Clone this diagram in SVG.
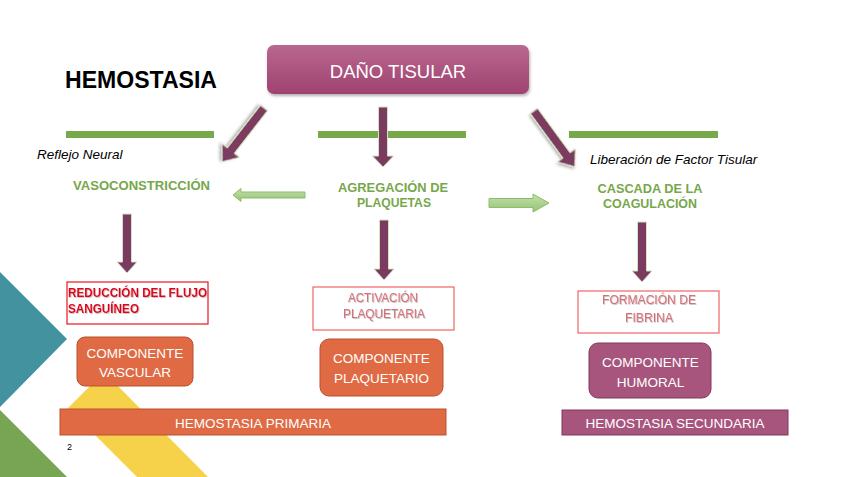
<svg xmlns="http://www.w3.org/2000/svg" width="848" height="477" viewBox="0 0 848 477">
<defs>
<linearGradient id="gDano" x1="0" y1="0" x2="0" y2="1">
<stop offset="0" stop-color="#b9688f"/>
<stop offset="1" stop-color="#9f426f"/>
</linearGradient>
<linearGradient id="gGreen" x1="0" y1="0" x2="0" y2="1">
<stop offset="0" stop-color="#c3e0ae"/>
<stop offset="1" stop-color="#95c473"/>
</linearGradient>
<filter id="sh" x="-10%" y="-20%" width="120%" height="150%">
<feDropShadow dx="1" dy="2" stdDeviation="1.5" flood-color="#000" flood-opacity="0.3"/>
</filter>
<filter id="tsh" x="-5%" y="-20%" width="110%" height="150%">
<feDropShadow dx="0.8" dy="0.8" stdDeviation="0.4" flood-color="#777" flood-opacity="0.5"/>
</filter>
</defs>
<style>
.sans{font-family:"Liberation Sans",Arial,sans-serif}
.green{fill:#76a74a;font-weight:bold;font-size:13px}
.ital{font-style:italic;font-size:13.5px;fill:#000}
.wht{fill:#fff;font-size:13.5px}
.bar{fill:#78a84c}
.parrow{fill:#7b3a5f;stroke:#d4e2c2;stroke-width:1}
.garrow{fill:url(#gGreen);stroke:#8cbd69;stroke-width:1}
.orange{fill:#e06a43;stroke:#b9512f;stroke-width:1}
.purple{fill:#a8557e;stroke:#7e3a5d;stroke-width:1}
</style>
<rect width="848" height="477" fill="#fff"/>
<g id="background">
<polygon points="68,408 104,372 208,477 137,477" fill="#f6d24a"/>
<polygon points="0,272 67,339 0,407" fill="#42929f"/>
<polygon points="0,410 67,477 0,477" fill="#78a553"/>
</g>
<text class="sans" x="65" y="88" font-size="23" font-weight="bold" fill="#000" textLength="152" lengthAdjust="spacingAndGlyphs">HEMOSTASIA</text>
<g id="dano">
<rect x="267" y="45" width="262" height="49" rx="7" fill="url(#gDano)" filter="url(#sh)"/>
<text class="sans" x="398" y="78" font-size="18.5" fill="#fff" text-anchor="middle">DAÑO TISULAR</text>
</g>
<g id="bars">
<rect class="bar" x="66" y="131" width="148" height="7"/>
<rect class="bar" x="318" y="131" width="148" height="7"/>
<rect class="bar" x="569" y="131" width="149" height="7"/>
</g>
<g id="connectors">
<polygon class="parrow" filter="url(#sh)" transform="translate(264,108) rotate(127.9)" points="0,-4.5 54,-4.5 54,-11 68,0 54,11 54,4.5 0,4.5"/>
<polygon class="parrow" transform="translate(383,107) rotate(90)" points="0,-4.5 49,-4.5 49,-10.5 60,0 49,10.5 49,4.5 0,4.5"/>
<polygon class="parrow" filter="url(#sh)" transform="translate(534,111) rotate(53.8)" points="0,-4.5 55,-4.5 55,-11 69,0 55,11 55,4.5 0,4.5"/>
<polygon class="parrow" transform="translate(127,214) rotate(90)" points="0,-4.5 48,-4.5 48,-10 59,0 48,10 48,4.5 0,4.5"/>
<polygon class="parrow" transform="translate(384,220) rotate(90)" points="0,-4.5 49,-4.5 49,-10 60,0 49,10 49,4.5 0,4.5"/>
<polygon class="parrow" transform="translate(642,222) rotate(90)" points="0,-4.5 49,-4.5 49,-10 60,0 49,10 49,4.5 0,4.5"/>
<polygon class="garrow" points="305,192 241,192 241,188.5 233,195 241,201.5 241,198 305,198"/>
<polygon class="garrow" points="489,198.5 533,198.5 533,194 549,203 533,212 533,207.5 489,207.5"/>
</g>
<g id="vaso">
<text class="sans ital" x="37" y="159">Reflejo Neural</text>
<text class="sans green" x="73" y="190" textLength="137" lengthAdjust="spacingAndGlyphs">VASOCONSTRICCIÓN</text>
</g>
<g id="agregacion">
<text class="sans green" x="393" y="192" text-anchor="middle" textLength="110" lengthAdjust="spacingAndGlyphs">AGREGACIÓN DE</text>
<text class="sans green" x="394" y="207" text-anchor="middle" textLength="74" lengthAdjust="spacingAndGlyphs">PLAQUETAS</text>
</g>
<g id="cascada">
<text class="sans ital" x="590" y="164">Liberación de Factor Tisular</text>
<text class="sans green" x="650" y="193" text-anchor="middle" textLength="105" lengthAdjust="spacingAndGlyphs">CASCADA DE LA</text>
<text class="sans green" x="650" y="208" text-anchor="middle" textLength="94" lengthAdjust="spacingAndGlyphs">COAGULACIÓN</text>
</g>
<g id="reduccion">
<rect x="67" y="282" width="141" height="42" fill="#fff" stroke="#e8161e" stroke-width="1.2"/>
<g filter="url(#tsh)">
<text class="sans" x="68" y="297" font-size="13.5" font-weight="bold" fill="#e3001b" textLength="139" lengthAdjust="spacingAndGlyphs">REDUCCIÓN DEL FLUJO</text>
<text class="sans" x="68" y="313" font-size="13.5" font-weight="bold" fill="#e3001b" textLength="71" lengthAdjust="spacingAndGlyphs">SANGUÍNEO</text>
</g>
</g>
<g id="activacion">
<rect x="313" y="287" width="141" height="43" fill="#fff" stroke="#f06464" stroke-width="1.2"/>
<g filter="url(#tsh)">
<text class="sans" x="383" y="302" font-size="12.5" fill="#dc6f78" text-anchor="middle" textLength="70" lengthAdjust="spacingAndGlyphs">ACTIVACIÓN</text>
<text class="sans" x="384" y="318" font-size="12.5" fill="#dc6f78" text-anchor="middle" textLength="82" lengthAdjust="spacingAndGlyphs">PLAQUETARIA</text>
</g>
</g>
<g id="formacion">
<rect x="578" y="291" width="141" height="42" fill="#fff" stroke="#f06464" stroke-width="1.2"/>
<g filter="url(#tsh)">
<text class="sans" x="649" y="304" font-size="12.5" fill="#dc6f78" text-anchor="middle" textLength="94" lengthAdjust="spacingAndGlyphs">FORMACIÓN DE</text>
<text class="sans" x="649" y="322" font-size="12.5" fill="#dc6f78" text-anchor="middle" textLength="48" lengthAdjust="spacingAndGlyphs">FIBRINA</text>
</g>
</g>
<g id="comp-vascular">
<rect class="orange" x="77" y="337" width="116" height="49" rx="8"/>
<text class="sans wht" x="135" y="358" text-anchor="middle">COMPONENTE</text>
<text class="sans wht" x="135" y="377" text-anchor="middle">VASCULAR</text>
</g>
<g id="comp-plaquetario">
<rect class="orange" x="320" y="339" width="123" height="57" rx="9"/>
<text class="sans wht" x="381.5" y="363" text-anchor="middle">COMPONENTE</text>
<text class="sans wht" x="381.5" y="383" text-anchor="middle">PLAQUETARIO</text>
</g>
<g id="comp-humoral">
<rect class="purple" x="589" y="343" width="122" height="55" rx="9"/>
<text class="sans wht" x="650.5" y="367" text-anchor="middle">COMPONENTE</text>
<text class="sans wht" x="650.5" y="387" text-anchor="middle">HUMORAL</text>
</g>
<g id="hem-primaria">
<rect class="orange" x="60" y="409" width="386" height="26"/>
<text class="sans wht" x="253" y="428" text-anchor="middle">HEMOSTASIA PRIMARIA</text>
</g>
<g id="hem-secundaria">
<rect class="purple" x="562" y="410" width="226" height="25"/>
<text class="sans wht" x="675" y="428" text-anchor="middle">HEMOSTASIA SECUNDARIA</text>
</g>
<text class="sans" x="67" y="450" font-size="9" fill="#000">2</text>
</svg>
